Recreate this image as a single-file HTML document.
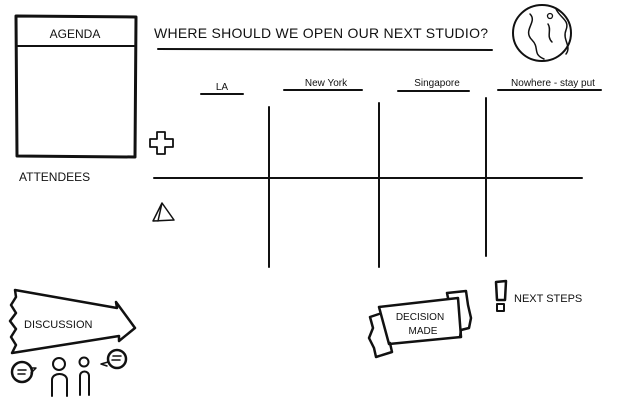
<!DOCTYPE html>
<html><head><style>
body{margin:0;width:620px;height:401px;background:#fff;overflow:hidden}
svg{display:block}
text{font-family:"Liberation Sans",sans-serif;fill:#111}
</style></head><body>
<svg width="620" height="401" viewBox="0 0 620 401" stroke="#111" fill="none" stroke-linecap="round" stroke-linejoin="round">
<!-- agenda box -->
<path d="M16 16 L136 17 L135 157 L17 156 Z" stroke-width="3"/>
<line x1="18" y1="46" x2="134" y2="46" stroke-width="2"/>
<text x="75" y="38" font-size="12" text-anchor="middle" stroke="none">AGENDA</text>
<text x="19" y="181" font-size="12" stroke="none">ATTENDEES</text>
<!-- title -->
<text x="154" y="38" font-size="14" stroke="none" textLength="334">WHERE SHOULD WE OPEN OUR NEXT STUDIO?</text>
<line x1="158" y1="49" x2="492" y2="50" stroke-width="2"/>
<!-- globe -->
<ellipse cx="542" cy="33" rx="29" ry="28" stroke-width="2"/>
<path d="M530 14 C538 22 522 30 532 40 C540 48 532 54 544 59 M556 9 C560 18 570 20 566 30 C562 40 572 46 566 54 M548 24 C552 30 546 36 552 42" stroke-width="1.5"/>
<circle cx="550" cy="16" r="2.5" stroke-width="1.3"/>
<!-- column headers -->
<text x="222" y="90" font-size="10" text-anchor="middle" stroke="none">LA</text>
<line x1="201" y1="94" x2="243" y2="94" stroke-width="2"/>
<text x="326" y="86" font-size="10" text-anchor="middle" stroke="none">New York</text>
<line x1="284" y1="90" x2="362" y2="90" stroke-width="2"/>
<text x="437" y="86" font-size="10" text-anchor="middle" stroke="none">Singapore</text>
<line x1="398" y1="91" x2="469" y2="91" stroke-width="2"/>
<text x="553" y="86" font-size="10" text-anchor="middle" stroke="none">Nowhere - stay put</text>
<line x1="498" y1="90" x2="601" y2="90" stroke-width="2"/>
<!-- grid -->
<line x1="269" y1="107" x2="269" y2="267" stroke-width="2"/>
<line x1="379" y1="103" x2="379" y2="267" stroke-width="2"/>
<line x1="486" y1="98" x2="486" y2="256" stroke-width="2"/>
<line x1="154" y1="178" x2="582" y2="178" stroke-width="2"/>
<!-- plus -->
<path d="M157 132 H165 V139 H173 V147 H165 V154 H157 V147 H150 V139 H157 Z" stroke-width="1.8"/>
<!-- triangle -->
<path d="M162 203 L174 220 L153 221 Z M162 203 L158 221" stroke-width="1.5"/>
<!-- discussion arrow -->
<path d="M15 290 L117 308 L116 302 L135 328 L119 341 L119 336 L12 353 L16 345 L11 337 L16 329 L10 321 L16 313 L11 305 L16 297 Z" stroke-width="2.5"/>
<text x="24" y="328" font-size="11" stroke="none">DISCUSSION</text>
<!-- people -->
<circle cx="22" cy="372" r="10" stroke-width="2.5"/>
<path d="M31 368 L36 368 L31 373 M18 370 H26 M18 374 H25" stroke-width="1.5"/>
<circle cx="59" cy="364" r="6" stroke-width="2"/>
<path d="M52 396 V380 C52 372 67 372 67 380 V396" stroke-width="2"/>
<circle cx="84" cy="362" r="4.5" stroke-width="2"/>
<path d="M80 395 V376 C80 370 89 370 89 376 V395" stroke-width="2"/>
<circle cx="117" cy="359" r="9" stroke-width="2.5"/>
<path d="M108 362 L101 364 L107 366 M113 356 H121 M112 360 H120" stroke-width="1.5"/>
<!-- decision banner -->
<path d="M379 314 L370 317 L373 328 L369 338 L374 348 L376 357 L392 352 L390 343" stroke-width="2.5"/>
<path d="M448 298 L447 293 L466 291 L468 305 L471 318 L469 328 L461 330 L460 337" stroke-width="2.5"/>
<path d="M379 307 L458 298 L461 337 L389 344 Z" stroke-width="2.5"/>
<text x="420" y="320" font-size="10" text-anchor="middle" stroke="none">DECISION</text>
<text x="423" y="334" font-size="10" text-anchor="middle" stroke="none">MADE</text>
<!-- next steps -->
<path d="M497 300 L496 282 L506 281 L505 300 Z" stroke-width="2.5"/>
<rect x="497" y="304" width="7" height="7" stroke-width="2"/>
<text x="514" y="302" font-size="11" stroke="none">NEXT STEPS</text>
</svg>
</body></html>
